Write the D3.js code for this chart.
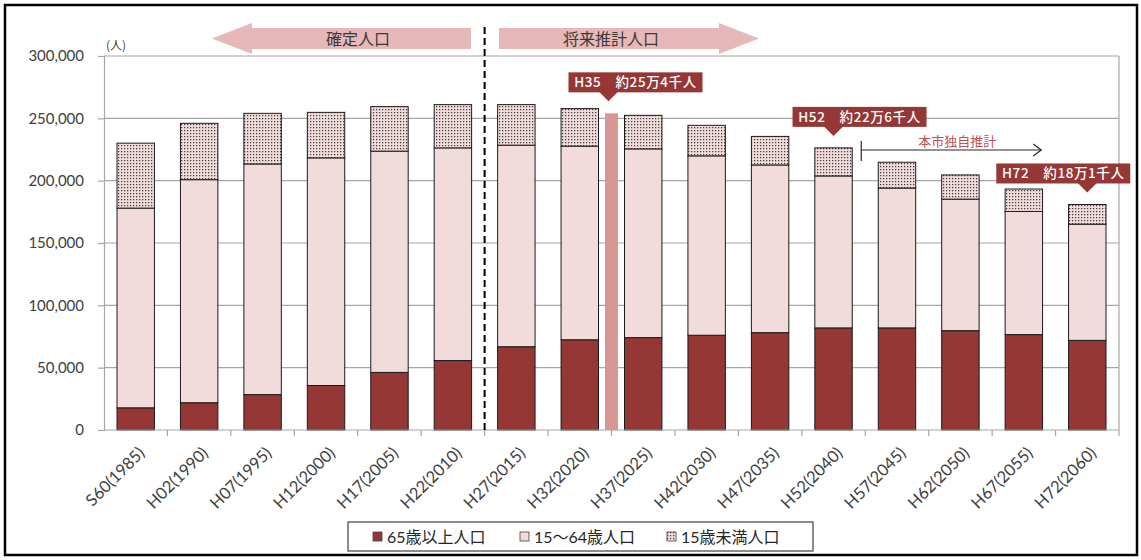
<!DOCTYPE html>
<html lang="ja">
<head>
<meta charset="utf-8">
<script src="https://d3js.org/d3.v7.min.js"></script>
<style>
  html, body { margin: 0; padding: 0; background: #fff; }
  svg { display: block; }
  .tick text { font-family: Lato, "Noto Sans CJK JP", sans-serif; }
</style>
</head>
<body>
<svg id="chart" width="1141" height="560"></svg>
<script>
// 年次区分（和暦・西暦）
const categories = [
  "S60(1985)", "H02(1990)", "H07(1995)", "H12(2000)", "H17(2005)", "H22(2010)",
  "H27(2015)", "H32(2020)", "H37(2025)", "H42(2030)", "H47(2035)", "H52(2040)",
  "H57(2045)", "H62(2050)", "H67(2055)", "H72(2060)"
];
// 65歳以上人口
const elderly = [17800, 21900, 28400, 35700, 46200, 55700, 66800, 72400,
                 74100, 76000, 78100, 81900, 81900, 79700, 76500, 71900];
// 15～64歳人口
const working = [160200, 178900, 185000, 182600, 177500, 170600, 161700, 155300,
                 151400, 143900, 134500, 121900, 112200, 105500, 98800, 93200];
// 15歳未満人口
const young = [52100, 45200, 40600, 36500, 35700, 34700, 32500, 30100,
               26900, 24500, 22900, 22500, 20700, 19400, 18000, 15800];

const seriesKeys = ["elderly", "working", "young"];
const seriesNames = ["65歳以上人口", "15～64歳人口", "15歳未満人口"];

// y軸目盛
const yTicks = [0, 50000, 100000, 150000, 200000, 250000, 300000];

// H35（2023年）ピーク人口
const peakValue = 254000;

// 吹き出し（位置は区分名で指定、H35は H32 と H37 の境界）
const calloutText = ["H35　約25万4千人", "H52　約22万6千人", "H72　約18万1千人"];
const calloutAt = ["H32(2020)|H37(2025)", "H52(2040)", "H72(2060)"];
const calloutValue = [peakValue, 226300, 180900];

// 期間ラベル
const periodLabels = ["確定人口", "将来推計人口"];
const ownEstimateLabel = "本市独自推計";

const colors = {
  elderly: "#953735",
  working: "#f2dcdb",
  peak: "#d99694",
  callout: "#953735",
  arrow: "#e6b8b7",
  grid: "#a6a6a6"
};

const svg = d3.select("#chart");
const margin = { left: 104, right: 1119, top: 56, bottom: 430 };

const x = d3.scaleBand()
  .domain(categories)
  .range([margin.left, margin.right])
  .paddingInner(0.41)
  .paddingOuter(0.205);
const y = d3.scaleLinear().domain([0, 300000]).range([margin.bottom, margin.top]);
const step = x.step();
const bw = x.bandwidth();
const boundary = c => x(c) - (step - bw) / 2;   // left edge of a category slot
const center = c => x(c) + bw / 2;

// ドットパターン（15歳未満）
const defs = svg.append("defs");
const pat = defs.append("pattern")
  .attr("id", "dots").attr("patternUnits", "userSpaceOnUse")
  .attr("width", 3).attr("height", 3);
pat.append("rect").attr("width", 3).attr("height", 3).attr("fill", "#f2dcdb");
pat.append("rect").attr("x", 1).attr("y", 1).attr("width", 1.25).attr("height", 1.25).attr("fill", "#3f3f3f");
const fills = { elderly: colors.elderly, working: colors.working, young: "url(#dots)" };

// 外枠
svg.append("rect")
  .attr("x", 5).attr("y", 5).attr("width", 1132).attr("height", 550)
  .attr("fill", "none").attr("stroke", "#000").attr("stroke-width", 2.5);

// グリッド線
svg.append("g")
  .selectAll("line")
  .data(yTicks.filter(d => d > 0))
  .join("line")
  .attr("x1", margin.left).attr("x2", margin.right)
  .attr("y1", d => y(d)).attr("y2", d => y(d))
  .attr("stroke", colors.grid).attr("stroke-width", 1.2);
// 右枠線
svg.append("line")
  .attr("x1", margin.right).attr("x2", margin.right)
  .attr("y1", margin.top).attr("y2", margin.bottom)
  .attr("stroke", colors.grid).attr("stroke-width", 1.2);

// y軸
const yAxis = svg.append("g")
  .attr("transform", `translate(${margin.left},0)`)
  .call(d3.axisLeft(y).tickValues(yTicks).tickFormat(d3.format(",")).tickSize(6).tickPadding(14));
yAxis.select(".domain").attr("stroke", colors.grid).attr("stroke-width", 1.2);
yAxis.selectAll(".tick line").attr("stroke", colors.grid).attr("stroke-width", 1.2);
yAxis.selectAll(".tick text").attr("font-size", 15).attr("fill", "#404040");

svg.append("text")
  .attr("x", margin.left + 2).attr("y", 50)
  .attr("font-family", "'Noto Sans CJK JP', sans-serif")
  .attr("font-size", 12).attr("fill", "#404040")
  .text("(人)");

// 積み上げ棒
const table = categories.map((c, i) => ({ cat: c, elderly: elderly[i], working: working[i], young: young[i] }));
const stacked = d3.stack().keys(seriesKeys)(table);

svg.append("g")
  .selectAll("g")
  .data(stacked)
  .join("g")
  .attr("fill", d => fills[d.key])
  .selectAll("rect")
  .data(d => d)
  .join("rect")
  .attr("x", d => x(d.data.cat))
  .attr("width", bw)
  .attr("y", d => y(d[1]))
  .attr("height", d => y(d[0]) - y(d[1]))
  .attr("stroke", "#1a1a1a")
  .attr("stroke-width", 1);

// H35 ピーク棒
const peakX = boundary("H37(2025)");
svg.append("rect")
  .attr("x", peakX - 6.5).attr("width", 13)
  .attr("y", y(peakValue)).attr("height", y(0) - y(peakValue))
  .attr("fill", colors.peak);

// x軸
svg.append("line")
  .attr("x1", margin.left).attr("x2", margin.right)
  .attr("y1", y(0)).attr("y2", y(0))
  .attr("stroke", colors.grid).attr("stroke-width", 1.2);
svg.append("g")
  .selectAll("line")
  .data(categories.slice(1).concat(["__end"]))
  .join("line")
  .attr("x1", d => d === "__end" ? margin.right : boundary(d))
  .attr("x2", d => d === "__end" ? margin.right : boundary(d))
  .attr("y1", y(0)).attr("y2", y(0) + 6)
  .attr("stroke", colors.grid).attr("stroke-width", 1.2);

const xAxis = svg.append("g")
  .attr("transform", `translate(0,${y(0)})`)
  .call(d3.axisBottom(x).tickSize(0).tickPadding(0));
xAxis.select(".domain").remove();
xAxis.selectAll(".tick text")
  .attr("font-size", 16.5).attr("fill", "#404040")
  .attr("text-anchor", "end")
  .attr("dy", 0)
  .attr("transform", "translate(10,24) rotate(-45)");

// 確定／推計の区切り線
const divX = boundary("H27(2015)");
svg.append("line")
  .attr("x1", divX).attr("x2", divX)
  .attr("y1", 27).attr("y2", y(0))
  .attr("stroke", "#000").attr("stroke-width", 2)
  .attr("stroke-dasharray", "7,4");

// 期間矢印
function blockArrow(x0, x1, dir, label, labelX) {
  const yc = 38.5, sh = 10.5, hh = 15.5, head = 40;
  let pts;
  if (dir < 0) {
    pts = [[x0, yc], [x0 + head, yc - hh], [x0 + head, yc - sh], [x1, yc - sh],
           [x1, yc + sh], [x0 + head, yc + sh], [x0 + head, yc + hh]];
  } else {
    pts = [[x0, yc - sh], [x1 - head, yc - sh], [x1 - head, yc - hh], [x1, yc],
           [x1 - head, yc + hh], [x1 - head, yc + sh], [x0, yc + sh]];
  }
  svg.append("polygon").attr("points", pts.map(p => p.join(",")).join(" ")).attr("fill", colors.arrow);
  svg.append("text")
    .attr("x", labelX).attr("y", yc + 6)
    .attr("text-anchor", "middle")
    .attr("font-family", "'Noto Sans CJK JP', sans-serif")
    .attr("font-size", 16).attr("fill", "#3a3a3a")
    .text(label);
}
blockArrow(212, 471, -1, periodLabels[0], 358);
blockArrow(499, 759, 1, periodLabels[1], 611);

// 吹き出し
calloutText.forEach((t, i) => {
  const key = calloutAt[i];
  const cx = key.includes("|") ? boundary(key.split("|")[1]) - 3 : center(key);
  const tipY = y(calloutValue[i]) - 12;
  const boxH = 20, boxW = 134;
  const boxBottom = tipY - 9;
  const boxX = cx - (i === 0 ? 40 : i === 1 ? 41 : 91);
  const g = svg.append("g");
  g.append("rect")
    .attr("x", boxX).attr("y", boxBottom - boxH)
    .attr("width", boxW).attr("height", boxH)
    .attr("fill", colors.callout);
  g.append("polygon")
    .attr("points", [[cx - 10, boxBottom - 1], [cx + 10, boxBottom - 1], [cx, tipY]].map(p => p.join(",")).join(" "))
    .attr("fill", colors.callout);
  g.append("text")
    .attr("x", boxX + boxW / 2).attr("y", boxBottom - 5)
    .attr("text-anchor", "middle")
    .attr("font-family", "'Noto Sans CJK JP', sans-serif")
    .attr("font-size", 13.5).attr("font-weight", 500)
    .attr("letter-spacing", 0.6)
    .attr("fill", "#fff")
    .text(t);
});

// 本市独自推計の矢印
const ownX0 = boundary("H57(2045)") - 4;
const ownX1 = ownX0 + 180;
svg.append("line").attr("x1", ownX0).attr("x2", ownX0).attr("y1", 141).attr("y2", 161)
  .attr("stroke", "#262626").attr("stroke-width", 1.2);
svg.append("line").attr("x1", ownX0).attr("x2", ownX1).attr("y1", 150).attr("y2", 150)
  .attr("stroke", "#262626").attr("stroke-width", 1.2);
svg.append("polyline")
  .attr("points", `${ownX1 - 8},${144} ${ownX1},${150} ${ownX1 - 8},${156}`)
  .attr("fill", "none").attr("stroke", "#262626").attr("stroke-width", 1.2);
svg.append("text")
  .attr("x", (ownX0 + ownX1) / 2 + 6).attr("y", 146)
  .attr("text-anchor", "middle")
  .attr("font-family", "'Noto Sans CJK JP', sans-serif")
  .attr("font-size", 13).attr("fill", "#c0504d")
  .text(ownEstimateLabel);

// 凡例
const legend = svg.append("g");
legend.append("rect")
  .attr("x", 348).attr("y", 522).attr("width", 465).attr("height", 29)
  .attr("fill", "#fff").attr("stroke", "#404040").attr("stroke-width", 1.2);
const legendX = [373, 520, 667];
const legendFill = [colors.elderly, colors.working, "url(#dots)"];
seriesNames.forEach((name, i) => {
  legend.append("rect")
    .attr("x", legendX[i]).attr("y", 532).attr("width", 9).attr("height", 9)
    .attr("fill", legendFill[i]).attr("stroke", "#404040").attr("stroke-width", 0.8);
  legend.append("text")
    .attr("x", legendX[i] + 14).attr("y", 543)
    .attr("font-family", "Lato, 'Noto Sans CJK JP', sans-serif")
    .attr("font-size", 16).attr("fill", "#262626")
    .text(name);
});
</script>
</body>
</html>
